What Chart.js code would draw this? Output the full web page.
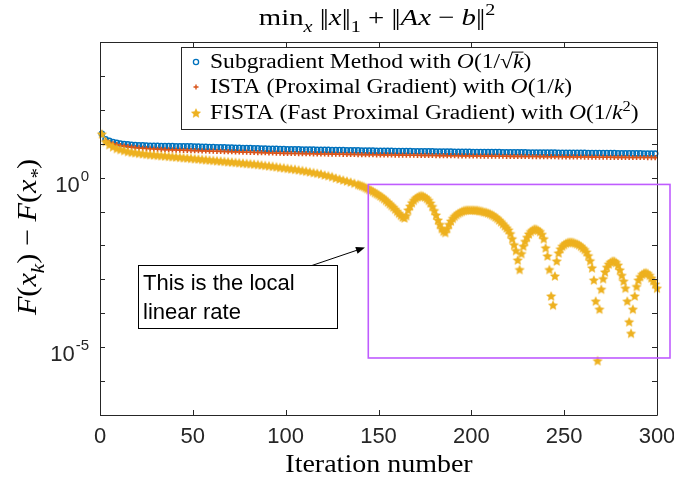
<!DOCTYPE html>
<html>
<head>
<meta charset="utf-8">
<script src="https://cdn.jsdelivr.net/npm/chart.js@4.4.1/dist/chart.umd.min.js"></script>
<style>
  html, body { margin: 0; padding: 0; background: #fff; }
  #chart { display: block; }
</style>
</head>
<body>
<canvas id="chart" width="674" height="481"></canvas>
<script>
// Iterations sampled for the two slow methods (every 2nd iteration)
const sparseIters = [
  1, 3, 5, 7, 9, 11, 13, 15, 17, 19, 21, 23, 25, 27, 29, 31, 33, 35, 37, 39, 41, 43, 45, 47, 49,
  51, 53, 55, 57, 59, 61, 63, 65, 67, 69, 71, 73, 75, 77, 79, 81, 83, 85, 87, 89, 91, 93, 95, 97, 99,
  101, 103, 105, 107, 109, 111, 113, 115, 117, 119, 121, 123, 125, 127, 129, 131, 133, 135, 137, 139, 141, 143, 145, 147, 149,
  151, 153, 155, 157, 159, 161, 163, 165, 167, 169, 171, 173, 175, 177, 179, 181, 183, 185, 187, 189, 191, 193, 195, 197, 199,
  201, 203, 205, 207, 209, 211, 213, 215, 217, 219, 221, 223, 225, 227, 229, 231, 233, 235, 237, 239, 241, 243, 245, 247, 249,
  251, 253, 255, 257, 259, 261, 263, 265, 267, 269, 271, 273, 275, 277, 279, 281, 283, 285, 287, 289, 291, 293, 295, 297, 299
];

// F(x_k) - F(x_*) for the subgradient method
const subgradVals = [
  19.5, 13.5, 12.2, 11.2, 10.6, 10.1, 9.8, 9.55, 9.3, 9.15, 9.0, 8.9, 8.8, 8.73, 8.67, 8.6, 8.57, 8.53, 8.5, 8.46,
  8.43, 8.4, 8.37, 8.33, 8.3,
  8.24, 8.18, 8.12, 8.06, 8.0, 7.94, 7.88, 7.82, 7.76, 7.71, 7.65, 7.6, 7.54, 7.49, 7.43, 7.38, 7.32, 7.27, 7.22, 7.16,
  7.11, 7.06, 7.01, 6.96, 6.91,
  6.88, 6.85, 6.82, 6.79, 6.76, 6.73, 6.7, 6.67, 6.64, 6.62, 6.59, 6.56, 6.53, 6.5, 6.47, 6.45, 6.42, 6.39, 6.36, 6.34,
  6.31, 6.28, 6.26, 6.23, 6.2,
  6.18, 6.16, 6.14, 6.12, 6.1, 6.08, 6.06, 6.04, 6.02, 6.0, 5.98, 5.96, 5.95, 5.93, 5.91, 5.89, 5.87, 5.85, 5.83, 5.81,
  5.79, 5.78, 5.76, 5.74, 5.72,
  5.71, 5.7, 5.68, 5.67, 5.66, 5.65, 5.63, 5.62, 5.61, 5.6, 5.58, 5.57, 5.56, 5.55, 5.53, 5.52, 5.51, 5.5, 5.48, 5.47,
  5.46, 5.45, 5.44, 5.42, 5.41, 5.4, 5.39, 5.38, 5.36, 5.35, 5.34, 5.33, 5.32, 5.3, 5.29, 5.28, 5.27, 5.26, 5.25, 5.23,
  5.22, 5.21, 5.2, 5.19, 5.18, 5.16, 5.15, 5.14, 5.13, 5.12
];

// F(x_k) - F(x_*) for ISTA
const istaVals = [
  19.5, 12.5, 10.9, 10.0, 9.35, 8.85, 8.5, 8.2, 7.95, 7.7, 7.5, 7.35, 7.2, 7.08, 6.97, 6.88, 6.8, 6.72, 6.65, 6.58,
  6.52, 6.46, 6.4, 6.35, 6.3,
  6.25, 6.2, 6.16, 6.11, 6.06, 6.02, 5.97, 5.93, 5.88, 5.84, 5.79, 5.75, 5.71, 5.66, 5.62, 5.58, 5.53, 5.49, 5.45, 5.41,
  5.37, 5.33, 5.29, 5.25, 5.21,
  5.19, 5.17, 5.15, 5.13, 5.11, 5.09, 5.06, 5.04, 5.02, 5.0, 4.98, 4.96, 4.94, 4.92, 4.9, 4.88, 4.86, 4.84, 4.82, 4.8,
  4.78, 4.76, 4.75, 4.73, 4.71,
  4.7, 4.68, 4.67, 4.65, 4.64, 4.62, 4.61, 4.59, 4.58, 4.57, 4.55, 4.54, 4.52, 4.51, 4.5, 4.48, 4.47, 4.46, 4.44, 4.43,
  4.42, 4.4, 4.39, 4.38, 4.36,
  4.35, 4.34, 4.33, 4.32, 4.31, 4.3, 4.29, 4.28, 4.27, 4.26, 4.25, 4.24, 4.23, 4.22, 4.21, 4.2, 4.19, 4.18, 4.17, 4.16,
  4.15, 4.14, 4.13, 4.12, 4.11, 4.1, 4.09, 4.08, 4.07, 4.06, 4.05, 4.04, 4.03, 4.02, 4.01, 4.0, 3.99, 3.98, 3.97, 3.96,
  3.96, 3.95, 3.94, 3.93, 3.93, 3.92, 3.92, 3.91, 3.91, 3.9
];

// FISTA: every 2nd iteration up to 139, then every iteration
const fistaIters = [
  1, 3, 5, 7, 9, 11, 13, 15, 17, 19, 21, 23, 25, 27, 29, 31, 33, 35, 37, 39, 41, 43, 45, 47, 49,
  51, 53, 55, 57, 59, 61, 63, 65, 67, 69, 71, 73, 75, 77, 79, 81, 83, 85, 87, 89, 91, 93, 95, 97, 99,
  101, 103, 105, 107, 109, 111, 113, 115, 117, 119, 121, 123, 125, 127, 129, 131, 133, 135, 137, 139,
  140, 141, 142, 143, 144, 145, 146, 147, 148, 149,
  150, 151, 152, 153, 154, 155, 156, 157, 158, 159,
  160, 161, 162, 163, 164, 165, 166, 167, 168, 169,
  170, 171, 172, 173, 174, 175, 176, 177, 178, 179,
  180, 181, 182, 183, 184, 185, 186, 187, 188, 189,
  190, 191, 192, 193, 194, 195, 196, 197, 198, 199,
  200, 201, 202, 203, 204, 205, 206, 207, 208, 209,
  210, 211, 212, 213, 214, 215, 216, 217, 218, 219,
  220, 221, 222, 223, 224, 225, 226, 227, 228, 229,
  230, 231, 232, 233, 234, 235, 236, 237, 238, 239,
  240, 241, 242, 243, 244, 245, 246, 247, 248, 249,
  250, 251, 252, 253, 254, 255, 256, 257, 258, 259,
  260, 261, 262, 263, 264, 265, 266, 267, 268, 269,
  270, 271, 272, 273, 274, 275, 276, 277, 278, 279,
  280, 281, 282, 283, 284, 285, 286, 287, 288, 289,
  290, 291, 292, 293, 294, 295, 296, 297, 298, 299,
  300
];

const fistaVals = [
  19.5, 11.5, 9.33, 8.13, 7.24, 6.76, 6.31, 5.89, 5.62, 5.43, 5.25, 5.07, 4.90, 4.79, 4.68, 4.57, 4.47, 4.37, 4.27, 4.17,
  4.07, 3.98, 3.89, 3.80, 3.72,
  3.63, 3.55, 3.47, 3.39, 3.31, 3.24, 3.16, 3.09, 3.02, 2.95, 2.88, 2.82, 2.75, 2.69, 2.63, 2.57, 2.51, 2.45, 2.37, 2.29,
  2.24, 2.16, 2.09, 2.0, 1.95,
  1.88, 1.82, 1.76, 1.70, 1.62, 1.55, 1.48, 1.41, 1.35, 1.29, 1.20, 1.14, 1.07, 0.977, 0.912, 0.851, 0.794, 0.741, 0.684, 0.631,
  0.603, 0.575, 0.550, 0.513, 0.479, 0.447, 0.427, 0.398, 0.363, 0.339,
  0.316, 0.288, 0.263, 0.240, 0.214, 0.191, 0.170, 0.151, 0.135, 0.117,
  0.102, 0.0891, 0.0776, 0.0692, 0.0646, 0.0759, 0.112, 0.145, 0.182, 0.214,
  0.245, 0.269, 0.288, 0.295, 0.288, 0.269, 0.245, 0.214, 0.178, 0.141,
  0.107, 0.0794, 0.0562, 0.0417, 0.0316, 0.0263, 0.0240, 0.0316, 0.0417, 0.0525,
  0.0631, 0.0724, 0.0813, 0.0891, 0.0955, 0.102, 0.107, 0.110, 0.112, 0.112,
  0.112, 0.112, 0.110, 0.110, 0.107, 0.105, 0.102, 0.0977, 0.0955, 0.0912,
  0.0871, 0.0813, 0.0759, 0.0692, 0.0631, 0.0562, 0.0501, 0.0437, 0.0380, 0.0331,
  0.0288, 0.0224, 0.0158, 0.0105, 0.00708, 0.00372, 0.00195, 0.00575, 0.00955, 0.0132,
  0.0174, 0.0219, 0.0257, 0.0288, 0.0309, 0.0302, 0.0282, 0.0257, 0.0214, 0.0158,
  0.00851, 0.00490, 0.00195, 0.000324, 0.000174, 0.00126, 0.00347, 0.00603, 0.00794, 0.00955,
  0.0107, 0.0117, 0.0123, 0.0126, 0.0126, 0.0123, 0.0117, 0.0112, 0.0105, 0.00955,
  0.00851, 0.00759, 0.00646, 0.00501, 0.00355, 0.00219, 0.000955, 0.000229, 0.00000398, 0.000132,
  0.000513, 0.00105, 0.00166, 0.00229, 0.00282, 0.00324, 0.00347, 0.00347, 0.00316, 0.00263,
  0.00191, 0.00132, 0.000891, 0.000550, 0.000229, 0.0000562, 0.0000257, 0.000132, 0.000324, 0.000617,
  0.000955, 0.00120, 0.00141, 0.00155, 0.00158, 0.00151, 0.00132, 0.00110, 0.000912, 0.000724,
  0.000550
];

// Axis ticks
const xTicks = [0, 50, 100, 150, 200, 250, 300];
const yTicks = [1e-7, 1e-6, 1e-5, 1e-4, 1e-3, 1e-2, 1e-1, 1, 1e1, 1e2, 1e3, 1e4];
const yLabelValues = [1, 1e-5];
const yLabelExps = ['0', '-5'];

// Colours (MATLAB default order)
const BLUE = '#0072BD';
const ORANGE = '#D95319';
const YELLOW = '#EDB120';
const AXIS = '#262626';
const PURPLE = '#BF5CFF';
const SERIF = '"Liberation Serif", "DejaVu Serif", serif';
const SANS = '"Liberation Sans", Arial, sans-serif';

// Filled pentagram marker, like MATLAB 'p'
function makeStar(r, color) {
    const c = document.createElement('canvas');
    const s = Math.ceil(r * 2 + 2);
    c.width = s; c.height = s;
    const g = c.getContext('2d');
    g.beginPath();
    for (let i = 0; i < 10; i++) {
        const rad = i % 2 === 0 ? r : r * 0.48;
        const a = -Math.PI / 2 + i * Math.PI / 5;
        const px = s / 2 + rad * Math.cos(a);
        const py = s / 2 + 0.5 + rad * Math.sin(a);
        if (i === 0) g.moveTo(px, py); else g.lineTo(px, py);
    }
    g.closePath();
    g.fillStyle = color;
    g.fill();
    g.strokeStyle = 'rgba(237,177,32,0.45)';
    g.lineWidth = 0.8;
    g.stroke();
    return c;
}
const starImg = makeStar(4.9, YELLOW);

function toPoints(xs, ys) {
    return xs.map((k, i) => ({ x: k, y: ys[i] }));
}

// Measure / draw a line of mixed roman, italic, sub- and superscript text
function richWidth(ctx, parts, size, family) {
    let w = 0;
    parts.forEach(p => {
        const fs = (p.sub || p.sup) ? size * 0.7 : size;
        ctx.font = (p.i ? 'italic ' : '') + fs + 'px ' + family;
        w += ctx.measureText(p.t).width + (p.gap || 0);
    });
    return w;
}

function drawRich(ctx, parts, x, y, size, family, align, target, maxStretch) {
    const w = richWidth(ctx, parts, size, family);
    const sx = target ? Math.min(target / w, maxStretch || 1.12) : 1;
    let start = x;
    if (align === 'center') start = x - w * sx / 2;
    if (align === 'right') start = x - w * sx;
    ctx.save();
    ctx.translate(start, y);
    ctx.scale(sx, 1);
    ctx.textAlign = 'left';
    ctx.textBaseline = 'alphabetic';
    let cx = 0;
    parts.forEach(p => {
        const fs = (p.sub || p.sup) ? size * 0.7 : size;
        ctx.font = (p.i ? 'italic ' : '') + fs + 'px ' + family;
        const dy = p.sub ? size * 0.28 : (p.sup ? -size * 0.4 : 0);
        ctx.fillText(p.t, cx, dy);
        const tw = ctx.measureText(p.t).width;
        if (p.over) ctx.fillRect(cx - 1, dy - size * 0.8, tw + 1, 1);
        cx += tw + (p.gap || 0);
    });
    ctx.restore();
}

// norm bars drawn as two tight vertical bars
const BAR = { t: '|', gap: -2 };
const titleParts = [
    { t: 'min' }, { t: 'x', i: true, sub: true }, { t: ' ' }, BAR, { t: '|' }, { t: 'x', i: true }, BAR, { t: '|' },
    { t: '1', sub: true }, { t: ' + ' }, BAR, { t: '|' }, { t: 'Ax', i: true }, { t: ' \u2212 ' }, { t: 'b', i: true },
    BAR, { t: '|' }, { t: '2', sup: true }
];
const yLabelParts = [
    { t: 'F', i: true }, { t: '(' }, { t: 'x', i: true }, { t: 'k', i: true, sub: true }, { t: ') \u2212 ' },
    { t: 'F', i: true }, { t: '(' }, { t: 'x', i: true }, { t: '*', i: true, sub: true }, { t: ')' }
];
const legendRows = [
    { marker: 'circle', target: 334, parts: [
        { t: 'Subgradient Method with ' }, { t: 'O', i: true }, { t: '(1/\u221A' }, { t: 'k', i: true, over: true }, { t: ')' }] },
    { marker: 'plus', target: 373, parts: [
        { t: 'ISTA (Proximal Gradient) with ' }, { t: 'O', i: true }, { t: '(1/' }, { t: 'k', i: true }, { t: ')' }] },
    { marker: 'star', target: 443, parts: [
        { t: 'FISTA (Fast Proximal Gradient) with ' }, { t: 'O', i: true }, { t: '(1/' }, { t: 'k', i: true },
        { t: '2', sup: true }, { t: ')' }] }
];

// Annotation positions in data units
const zoomBox = { x1: 144.5, x2: 307, y1: 0.63, y2: 4.8e-6 };
const noteBox = { x1: 20.5, x2: 127.6, y1: 2.57e-3, y2: 3.63e-5 };
const noteLines = ['This is the local', 'linear rate'];
const arrowFrom = { x: 114.2, y: 2.57e-3 };
const arrowTo = { x: 142.7, y: 8.7e-3 };

const decorPlugin = {
    id: 'decor',
    afterDatasetsDraw(chart) {
        const { ctx, chartArea: a, scales } = chart;
        const xs = scales.x, ys = scales.y;
        ctx.save();

        // axes box and inward ticks
        ctx.strokeStyle = AXIS;
        ctx.lineWidth = 1;
        ctx.beginPath();
        ctx.rect(a.left + 0.5, a.top + 0.5, a.right - a.left, a.bottom - a.top);
        xTicks.forEach(v => {
            const px = Math.round(xs.getPixelForValue(v)) + 0.5;
            ctx.moveTo(px, a.bottom); ctx.lineTo(px, a.bottom - 5);
            ctx.moveTo(px, a.top); ctx.lineTo(px, a.top + 5);
        });
        yTicks.forEach(v => {
            const py = Math.round(ys.getPixelForValue(v)) + 0.5;
            ctx.moveTo(a.left, py); ctx.lineTo(a.left + 5, py);
            ctx.moveTo(a.right, py); ctx.lineTo(a.right - 5, py);
        });
        ctx.stroke();

        // tick labels
        ctx.fillStyle = AXIS;
        ctx.font = '22px ' + SANS;
        ctx.textAlign = 'center';
        ctx.textBaseline = 'alphabetic';
        xTicks.forEach(v => {
            ctx.fillText(String(v), xs.getPixelForValue(v), a.bottom + 28);
        });
        yLabelValues.forEach((v, i) => {
            const py = ys.getPixelForValue(v);
            ctx.font = '15px ' + SANS;
            ctx.textAlign = 'right';
            ctx.fillText(yLabelExps[i], 89, py + 3);
            const ew = ctx.measureText(yLabelExps[i]).width;
            ctx.font = '22px ' + SANS;
            ctx.fillText('10', 89 - ew - 1, py + 14);
        });

        // title and axis labels
        ctx.fillStyle = '#000';
        drawRich(ctx, titleParts, 377, 25, 24, SERIF, 'center', 257, 1.2);
        drawRich(ctx, [{ t: 'Iteration number' }], 379, 472, 25, SERIF, 'center', 192);
        ctx.save();
        ctx.translate(36, 237);
        ctx.rotate(-Math.PI / 2);
        drawRich(ctx, yLabelParts, 0, 0, 27, SERIF, 'center', 185);
        ctx.restore();

        // legend
        const L = { left: 181, top: 47, right: 657, bottom: 129 };
        ctx.fillStyle = '#fff';
        ctx.fillRect(L.left, L.top, L.right - L.left, L.bottom - L.top);
        ctx.strokeStyle = AXIS;
        ctx.strokeRect(L.left + 0.5, L.top + 0.5, L.right - L.left, L.bottom - L.top);
        const rowY = [62, 87, 113];
        legendRows.forEach((row, i) => {
            const cy = rowY[i];
            if (row.marker === 'circle') {
                ctx.strokeStyle = BLUE; ctx.lineWidth = 1.3;
                ctx.beginPath(); ctx.arc(196, cy, 2.6, 0, Math.PI * 2); ctx.stroke();
            } else if (row.marker === 'plus') {
                ctx.strokeStyle = ORANGE; ctx.lineWidth = 1.4;
                ctx.beginPath();
                ctx.moveTo(193.5, cy); ctx.lineTo(198.5, cy);
                ctx.moveTo(196, cy - 2.5); ctx.lineTo(196, cy + 2.5);
                ctx.stroke();
            } else {
                ctx.drawImage(starImg, 196 - starImg.width / 2, cy - starImg.height / 2);
            }
            ctx.fillStyle = '#000';
            drawRich(ctx, row.parts, 210, cy + 6, 20.5, SERIF, 'left', row.target, 1.15);
        });

        // zoom rectangle
        ctx.strokeStyle = PURPLE;
        ctx.lineWidth = 1.6;
        const zx1 = xs.getPixelForValue(zoomBox.x1), zx2 = xs.getPixelForValue(zoomBox.x2);
        const zy1 = ys.getPixelForValue(zoomBox.y1), zy2 = ys.getPixelForValue(zoomBox.y2);
        ctx.strokeRect(zx1, zy1, zx2 - zx1, zy2 - zy1);

        // text box with arrow
        const nx1 = xs.getPixelForValue(noteBox.x1), nx2 = xs.getPixelForValue(noteBox.x2);
        const ny1 = ys.getPixelForValue(noteBox.y1), ny2 = ys.getPixelForValue(noteBox.y2);
        ctx.fillStyle = '#fff';
        ctx.fillRect(nx1, ny1, nx2 - nx1, ny2 - ny1);
        ctx.strokeStyle = '#000';
        ctx.lineWidth = 1;
        ctx.strokeRect(Math.round(nx1) + 0.5, Math.round(ny1) + 0.5, Math.round(nx2 - nx1), Math.round(ny2 - ny1));
        ctx.fillStyle = '#000';
        drawRich(ctx, [{ t: noteLines[0] }], nx1 + 5, ny1 + 25, 22, SANS, 'left');
        drawRich(ctx, [{ t: noteLines[1] }], nx1 + 5, ny1 + 54, 22, SANS, 'left');

        const ax1 = xs.getPixelForValue(arrowFrom.x), ay1 = ys.getPixelForValue(arrowFrom.y);
        const ax2 = xs.getPixelForValue(arrowTo.x), ay2 = ys.getPixelForValue(arrowTo.y);
        const ang = Math.atan2(ay2 - ay1, ax2 - ax1);
        ctx.beginPath();
        ctx.moveTo(ax1, ay1);
        ctx.lineTo(ax2 - 6 * Math.cos(ang), ay2 - 6 * Math.sin(ang));
        ctx.stroke();
        ctx.beginPath();
        ctx.moveTo(ax2, ay2);
        ctx.lineTo(ax2 - 9 * Math.cos(ang) + 3.5 * Math.sin(ang), ay2 - 9 * Math.sin(ang) - 3.5 * Math.cos(ang));
        ctx.lineTo(ax2 - 9 * Math.cos(ang) - 3.5 * Math.sin(ang), ay2 - 9 * Math.sin(ang) + 3.5 * Math.cos(ang));
        ctx.closePath();
        ctx.fill();

        ctx.restore();
    }
};

const whiteBg = {
    id: 'whiteBg',
    beforeDraw(chart) {
        const ctx = chart.ctx;
        ctx.save();
        ctx.fillStyle = '#fff';
        ctx.fillRect(0, 0, chart.width, chart.height);
        ctx.restore();
    }
};

new Chart(document.getElementById('chart'), {
    type: 'scatter',
    data: {
        datasets: [
            {
                label: 'Subgradient Method',
                data: toPoints(sparseIters, subgradVals),
                pointStyle: 'circle',
                pointRadius: 2.6,
                borderColor: BLUE,
                backgroundColor: 'rgba(0,0,0,0)',
                borderWidth: 1.5,
                order: 3,
                clip: false
            },
            {
                label: 'ISTA',
                data: toPoints(sparseIters, istaVals),
                pointStyle: 'cross',
                pointRadius: 2.6,
                borderColor: ORANGE,
                backgroundColor: ORANGE,
                borderWidth: 1.6,
                order: 2,
                clip: false
            },
            {
                label: 'FISTA',
                data: toPoints(fistaIters, fistaVals),
                pointStyle: starImg,
                borderColor: YELLOW,
                backgroundColor: YELLOW,
                order: 1,
                clip: false
            }
        ]
    },
    options: {
        responsive: false,
        devicePixelRatio: 1,
        animation: false,
        layout: { padding: { left: 100, top: 42, right: 17, bottom: 66 } },
        plugins: {
            legend: { display: false },
            title: { display: false },
            tooltip: { enabled: false }
        },
        scales: {
            x: { type: 'linear', min: 0, max: 300, display: false },
            y: { type: 'logarithmic', min: 1e-7, max: 1e4, display: false }
        }
    },
    plugins: [whiteBg, decorPlugin]
});
</script>
</body>
</html>
